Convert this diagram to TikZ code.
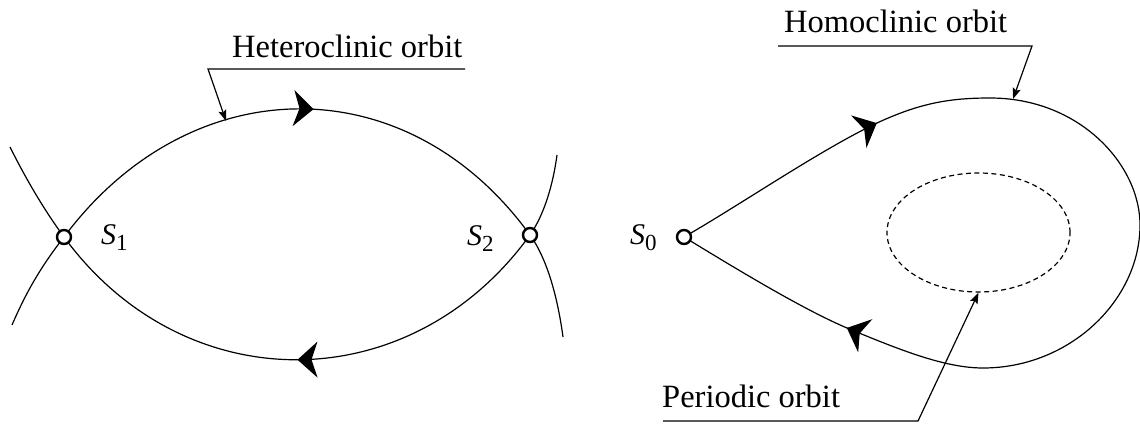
\documentclass[tikz,border=0pt]{standalone}
\usepackage{fontspec}
\setmainfont{Liberation Serif}
\usetikzlibrary{arrows.meta,decorations.markings,shapes.geometric}
\pgfdeclarelayer{background}
\pgfsetlayers{background,main}
\tikzset{
  orbit/.style={line width=1.2pt},
  bigarrow/.style={postaction={decorate,decoration={markings,
      mark=at position #1 with {\arrow{Stealth[length=20pt,width=36pt,inset=6pt]}}}}},
  saddle/.style={circle,draw,line width=2.4pt,fill=white,minimum size=14pt,inner sep=0pt},
  leader/.style={line width=1.2pt},
  leadtip/.style={-{Stealth[length=11pt,width=8pt,inset=2pt]}},
  lbl/.style={font=\fontsize{32.5}{38}\selectfont,inner sep=0pt,anchor=base west},
  slbl/.style={font=\fontsize{30}{32}\selectfont,inner sep=0pt,anchor=base west},
  periodic/.style={ellipse,draw,line width=1.2pt,dash pattern=on 5pt off 3.5pt,
      minimum width=183pt,minimum height=119pt,inner sep=0pt},
}
\newcommand{\subidx}[1]{\raisebox{-6pt}{\fontsize{23}{23}\selectfont #1}}
\begin{document}
\begin{tikzpicture}[x=1pt,y=-1pt]
\useasboundingbox (0,0) rectangle (1140,423);

% saddle points
\node[saddle] (s1) at (64,237) {};
\node[saddle] (s2) at (530,235) {};
\node[saddle] (s0) at (684,237) {};

% free ends
\coordinate (u1) at (10,147);
\coordinate (d1) at (12,325);
\coordinate (u2) at (557,155);
\coordinate (d2) at (563,337);
\coordinate (a1) at (877,123);
\coordinate (tp) at (990,98);
\coordinate (rt) at (1140,225);
\coordinate (bt) at (983,368);
\coordinate (a2) at (847,328);

% periodic orbit
\node[periodic] (po) at (978.5,232.5) {};

\begin{pgfonlayer}{background}
% heteroclinic orbits
\draw[orbit,bigarrow=0.53] (s1.center) .. controls (190,68) and (407,65) .. (s2.center);
\draw[orbit,bigarrow=0.5] (s2.center) .. controls (410,401) and (184,401) .. (s1.center);
% other manifold branches
\draw[orbit] (s1.center) .. controls (39,269) and (25,295) .. (d1);
\draw[orbit] (s1.center) .. controls (42,207) and (24,175) .. (u1);
\draw[orbit] (s2.center) .. controls (548,260) and (558,300) .. (d2);
\draw[orbit] (s2.center) .. controls (544,215) and (553,185) .. (u2);
% homoclinic orbit
\draw[orbit,bigarrow=0.999] (s0.center) .. controls (740,205) and (820,150) .. (a1);
\draw[orbit] (a1) .. controls (920,103) and (950,98) .. (tp)
  .. controls (1080,98) and (1140,165) .. (rt)
  .. controls (1140,300) and (1070,368) .. (bt)
  .. controls (945,368) and (900,350) .. (a2);
\draw[orbit,bigarrow=0.001] (a2) .. controls (800,308) and (730,265) .. (s0.center);
\end{pgfonlayer}

% labels
\node[lbl] (ht) at (232,57) {Heteroclinic orbit};
\node[lbl] (hm) at (784,32) {Homoclinic orbit};
\node[lbl] (pr) at (662,407) {Periodic orbit};
\node[slbl] (l1) at (101,244) {\textit{S}\subidx{1}};
\node[slbl] (l2) at (467,245) {\textit{S}\subidx{2}};
\node[slbl] (l0) at (630,244) {\textit{S}\subidx{0}};

% leaders
\coordinate (h1) at (465,69);
\coordinate (h2) at (208,69);
\coordinate (hx) at (226,121);
\draw[leader,leadtip] (h1) -- (h2) -- (hx);
\coordinate (m1) at (778,46);
\coordinate (m2) at (1032,46);
\coordinate (mx) at (1013,99);
\draw[leader,leadtip] (m1) -- (m2) -- (mx);
\coordinate (p1) at (663,421);
\coordinate (p2) at (918,421);
\draw[leader,leadtip] (p1) -- (p2) -- (po.south);
\end{tikzpicture}
\end{document}
